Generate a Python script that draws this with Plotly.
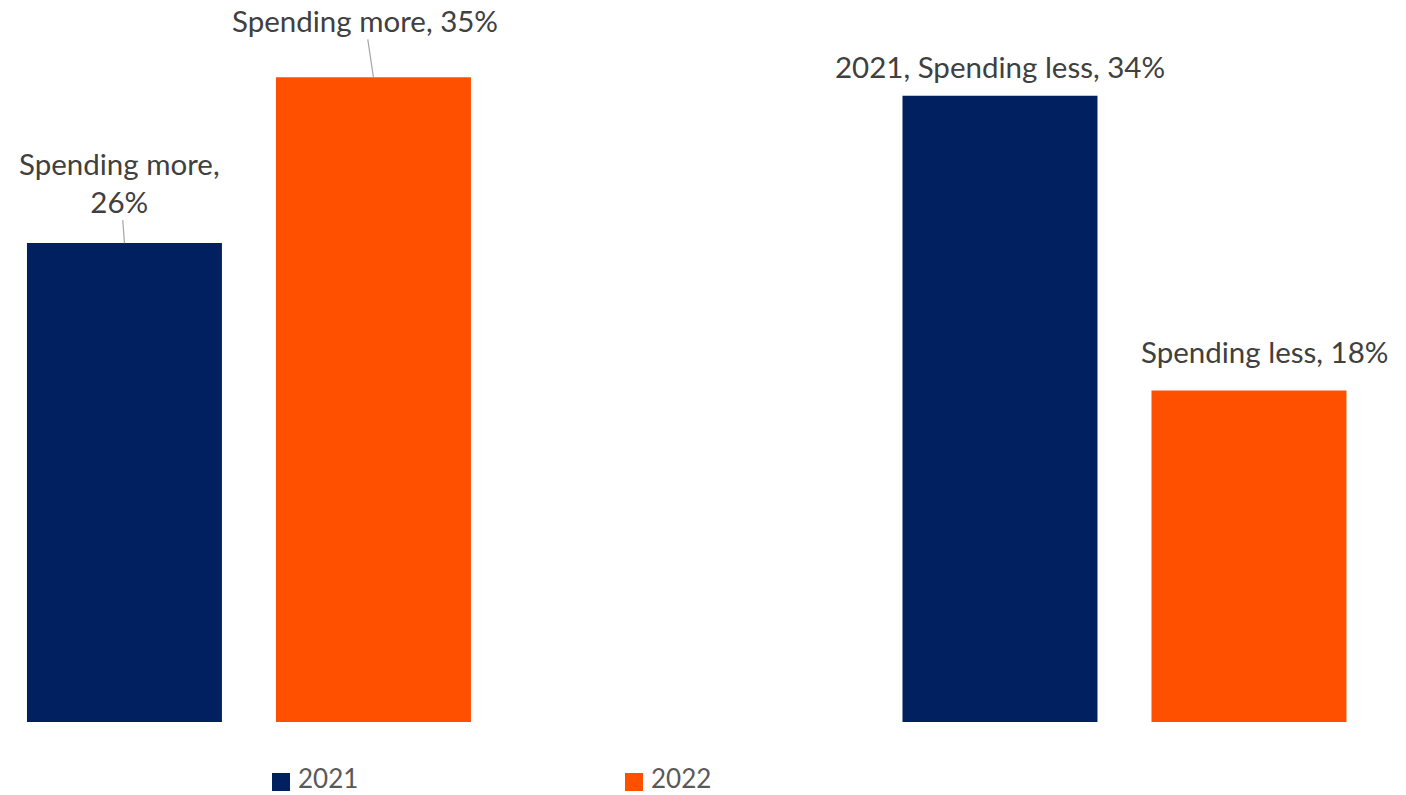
import plotly.graph_objects as go

# Share of respondents by spending change, per survey year
categories = ["Spending more", "Spending less"]
years = ["2021", "2022"]
values_2021 = [26, 34]
values_2022 = [35, 18]
label_texts = {
    ("2021", 0): "Spending more,<br>26%",
    ("2022", 0): "Spending more, 35%",
    ("2021", 1): "2021, Spending less, 34%",
    ("2022", 1): "Spending less, 18%",
}

colors = {"2021": "#002060", "2022": "#FF5000"}
W, H = 1406, 795
FONT = "Lato"
LABEL_SIZE = 29.5

# bar geometry in category units
bar_width = 0.2227
offsets = {"2021": -0.2536, "2022": 0.0308}

fig = go.Figure()
for yr, vals in zip(years, [values_2021, values_2022]):
    fig.add_trace(go.Bar(
        x=categories, y=vals, name=yr,
        width=bar_width, offset=offsets[yr],
        marker=dict(color=colors[yr], line=dict(width=0)),
        showlegend=False, hoverinfo="skip",
    ))

# data labels: (dx, dy) in pixels from bar top centre, leader line on/off
label_style = {
    ("2021", 0): (-4.5, -61, True),
    ("2022", 0): (-8.5, -57, True),
    ("2021", 1): (0.5, -29, False),
    ("2022", 1): (15.5, -39, False),
}
for yr, vals in zip(years, [values_2021, values_2022]):
    for i, v in enumerate(vals):
        xc = i + offsets[yr] + bar_width / 2
        dx, dy, leader = label_style[(yr, i)]
        txt = label_texts[(yr, i)]
        if leader:
            fig.add_annotation(
                x=xc, y=v, text=txt, showarrow=True, arrowhead=0,
                arrowwidth=1.2, arrowcolor="#A6A6A6", ax=dx, ay=dy,
                font=dict(family=FONT, size=LABEL_SIZE, color="#404040"),
                align="center",
            )
        else:
            fig.add_annotation(
                x=xc, y=v, text=txt, showarrow=False,
                xshift=dx, yshift=-dy, yanchor="middle",
                font=dict(family=FONT, size=LABEL_SIZE, color="#404040"),
            )

# legend drawn below the plot area
plot_bottom = 722
legend_items = [("2021", 272), ("2022", 625)]
for yr, px in legend_items:
    fig.add_shape(
        type="rect", xref="paper", yref="paper",
        x0=px / W, x1=(px + 18) / W,
        y0=(plot_bottom - 791) / plot_bottom, y1=(plot_bottom - 773) / plot_bottom,
        fillcolor=colors[yr], line=dict(width=0),
    )
    fig.add_annotation(
        xref="paper", yref="paper", x=(px + 24) / W,
        y=(plot_bottom - 778) / plot_bottom,
        xanchor="left", yanchor="middle", text=yr, showarrow=False,
        font=dict(family=FONT, size=26, color="#595959"),
    )

fig.update_layout(
    width=W, height=H,
    margin=dict(l=0, r=0, t=0, b=H - plot_bottom, pad=0),
    paper_bgcolor="white", plot_bgcolor="white",
    barmode="group",
    xaxis=dict(type="category", range=[-0.2844, 1.3215], visible=False),
    yaxis=dict(range=[0, 39.2], visible=False),
    showlegend=False,
)

fig.write_html("out.html")
